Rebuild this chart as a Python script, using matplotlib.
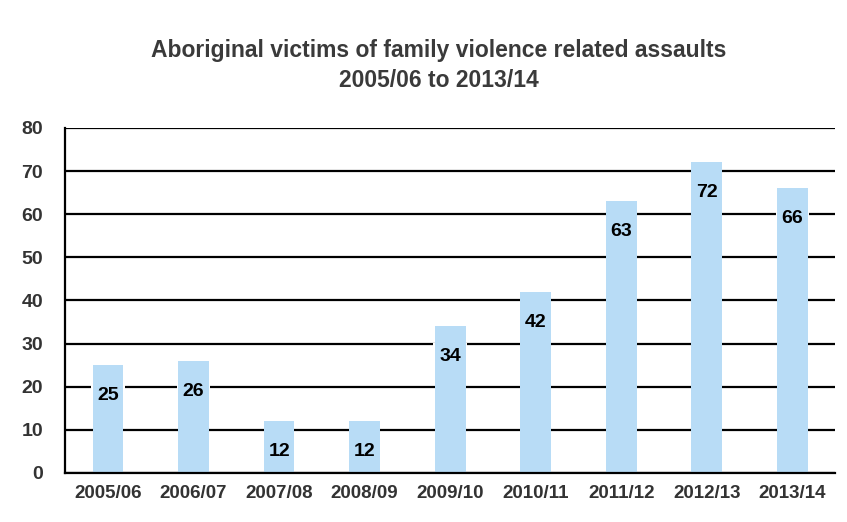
import matplotlib
matplotlib.use("Agg")
import matplotlib.pyplot as plt

years = ["2005/06", "2006/07", "2007/08", "2008/09", "2009/10",
         "2010/11", "2011/12", "2012/13", "2013/14"]
victims = [25, 26, 12, 12, 34, 42, 63, 72, 66]
y_ticks = [0, 10, 20, 30, 40, 50, 60, 70, 80]

bar_color = "#b8dcf6"
plt.rcParams["font.family"] = ["Liberation Sans", "DejaVu Sans"]

fig = plt.figure(figsize=(8.47, 5.22), dpi=100)
ax = fig.add_axes([0.077, 0.094, 0.909, 0.661])

ax.set_axisbelow(True)
ax.yaxis.grid(True, color="black", linewidth=1.6)
x = range(len(years))
ax.bar(x, victims, width=0.36, color=bar_color, zorder=2)

# value labels sit just under the bar top; a white patch behind the bar cuts the gridlines
for xi, v in zip(x, victims):
    ax.annotate(str(v), (xi, v), xytext=(0, -22), textcoords="offset points",
                ha="center", va="center", fontsize=14, fontweight="bold",
                color="none", zorder=1,
                bbox=dict(boxstyle="square,pad=0.3", fc="white", ec="none"))
    ax.annotate(str(v), (xi, v), xytext=(0, -22), textcoords="offset points",
                ha="center", va="center", fontsize=14, fontweight="bold",
                color="black", zorder=3)

ax.set_xlim(-0.5, len(years) - 0.5)
ax.set_ylim(0, 80)
ax.set_yticks(y_ticks)
ax.set_xticks(list(x))
ax.set_xticklabels(years)
ax.tick_params(axis="x", labelsize=13.5, colors="#333333", length=0, pad=9)
ax.tick_params(axis="y", labelsize=14, colors="#333333", length=0, pad=16)
for lab in ax.get_xticklabels() + ax.get_yticklabels():
    lab.set_fontweight("bold")
for s in ["top", "right"]:
    ax.spines[s].set_visible(False)
ax.spines["left"].set_linewidth(1.6)
ax.spines["bottom"].set_linewidth(1.6)

fig.text(0.518, 0.875, "Aboriginal victims of family violence related assaults\n2005/06 to 2013/14",
         ha="center", va="center", fontsize=16.5, fontweight="bold", color="#3a3a3a",
         linespacing=1.4)

fig.savefig("out.png", dpi=100)
